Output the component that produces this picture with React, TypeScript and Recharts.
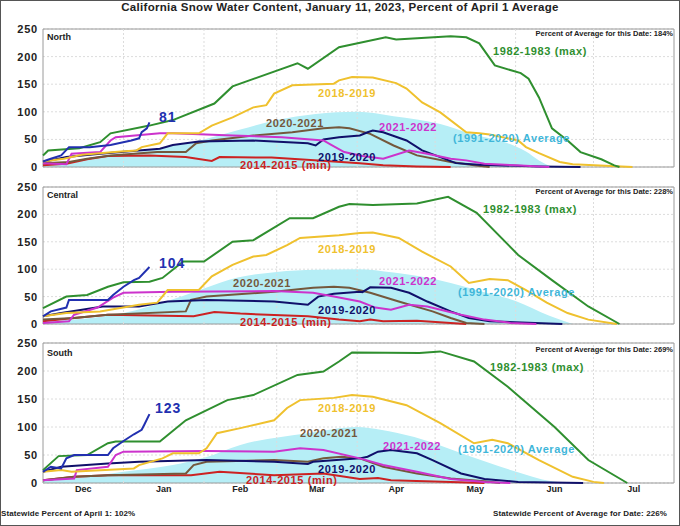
import React from "react";
import {
    ComposedChart,
    Line,
    Area,
    XAxis,
    YAxis,
    CartesianGrid,
    ReferenceLine,
    ReferenceArea,
} from "recharts";

// x = days since Dec 1, y = percent of April 1 average
const MONTHS = ["Dec", "Jan", "Feb", "Mar", "Apr", "May", "Jun", "Jul"];
const MONTH_MIDS = [15.5, 46.5, 76, 105.5, 136, 166.5, 197, 227.5];
const MONTH_STARTS = [31, 62, 90, 121, 151, 182, 212];
const Y_TICKS = [0, 50, 100, 150, 200, 250];

// North
const northAvg = [[0, 5], [15, 12], [31, 22], [46, 35], [62, 50], [76, 68], [90, 85], [105, 96], [121, 100], [135, 92], [153, 78], [165, 60], [179, 43], [186, 28], [191, 12], [196, 0]];
const northMax = [[0, 21], [2, 30], [14, 34], [22, 45], [26, 61], [41, 75], [50, 85], [66, 115], [73, 146], [98, 188], [102, 178], [114, 217], [132, 235], [136, 231], [157, 237], [163, 235], [168, 224], [174, 184], [184, 170], [187, 160], [191, 126], [196, 70], [202, 48], [207, 27], [215, 14], [220, 3], [222, 0]];
const north2018 = [[0, 10], [8, 15], [15, 22], [30, 28], [36, 30], [38, 36], [45, 43], [48, 61], [60, 61], [65, 75], [73, 90], [81, 108], [86, 112], [89, 133], [96, 148], [112, 151], [114, 157], [119, 163], [127, 162], [136, 152], [140, 142], [146, 117], [153, 99], [163, 63], [168, 61], [172, 59], [183, 48], [186, 36], [191, 25], [199, 9], [204, 5], [227, 0]];
const north2020 = [[0, 7], [10, 9], [17, 15], [26, 21], [44, 27], [55, 27], [59, 43], [65, 48], [81, 57], [96, 63], [108, 70], [114, 72], [118, 70], [126, 60], [135, 39], [144, 21], [157, 9], [166, 3], [172, 0]];
const north2021 = [[0, 7], [9, 5], [11, 24], [22, 27], [26, 48], [28, 54], [45, 61], [50, 61], [73, 57], [92, 54], [108, 48], [111, 40], [116, 27], [123, 20], [131, 15], [141, 30], [148, 24], [157, 15], [163, 12], [170, 6], [182, 3], [195, 0]];
const north2019 = [[0, 9], [9, 18], [22, 24], [45, 33], [50, 40], [60, 46], [81, 48], [102, 43], [105, 39], [108, 50], [114, 54], [122, 57], [125, 63], [127, 66], [131, 63], [140, 48], [146, 30], [153, 18], [159, 7], [168, 4], [191, 1], [207, 0]];
const north2014 = [[0, 3], [9, 6], [17, 14], [25, 20], [41, 21], [55, 18], [65, 11], [68, 18], [88, 17], [112, 10], [122, 7], [131, 3], [144, 1], [157, 0]];
const northNow = [[0, 10], [3, 15], [7, 21], [10, 36], [18, 36], [26, 40], [34, 48], [37, 52], [38, 63], [40, 70], [41, 81]];

// Central
const centralAvg = [[0, 5], [31, 20], [50, 45], [62, 65], [75, 85], [90, 95], [105, 99], [121, 100], [135, 94], [145, 87], [157, 75], [170, 58], [182, 42], [195, 15], [204, 0]];
const centralMax = [[0, 29], [9, 50], [17, 53], [25, 68], [31, 76], [41, 77], [46, 84], [54, 114], [62, 114], [73, 150], [81, 153], [95, 193], [104, 193], [114, 214], [118, 219], [127, 217], [144, 220], [156, 232], [167, 203], [183, 126], [196, 80], [210, 32], [222, 0]];
const central2018 = [[0, 14], [9, 20], [22, 23], [37, 35], [44, 39], [48, 62], [60, 62], [65, 87], [73, 108], [81, 123], [86, 126], [94, 144], [99, 157], [114, 162], [122, 166], [127, 167], [137, 157], [146, 132], [157, 105], [164, 75], [172, 82], [179, 80], [186, 62], [194, 39], [202, 20], [210, 8], [221, 0]];
const central2020 = [[0, 8], [12, 11], [25, 17], [55, 23], [57, 44], [63, 50], [89, 59], [104, 66], [112, 68], [118, 66], [126, 57], [137, 41], [150, 23], [157, 11], [163, 2], [170, 0]];
const central2021 = [[0, 2], [10, 5], [12, 17], [21, 30], [27, 48], [31, 57], [50, 59], [89, 60], [104, 57], [112, 50], [122, 41], [128, 30], [134, 26], [141, 35], [148, 32], [161, 17], [170, 8], [180, 2], [190, 0]];
const central2019 = [[0, 14], [7, 20], [23, 32], [37, 32], [48, 41], [63, 44], [89, 41], [102, 35], [106, 50], [112, 55], [122, 59], [123, 58], [126, 67], [134, 66], [141, 57], [148, 41], [157, 23], [164, 11], [172, 5], [200, 0]];
const central2014 = [[0, 5], [12, 11], [25, 17], [58, 14], [66, 22], [76, 19], [102, 14], [114, 8], [122, 5], [126, 8], [131, 5], [144, 6], [157, 2], [163, 0]];
const centralNow = [[0, 14], [3, 23], [9, 30], [10, 44], [25, 44], [27, 53], [31, 68], [35, 80], [37, 84], [41, 104]];

// South
const southAvg = [[0, 5], [15, 10], [31, 20], [50, 32], [62, 45], [76, 68], [102, 89], [121, 100], [130, 95], [143, 82], [163, 50], [181, 22], [196, 3], [205, 0]];
const southMax = [[0, 23], [6, 48], [17, 50], [25, 71], [28, 74], [45, 74], [55, 112], [71, 148], [81, 157], [98, 193], [108, 199], [114, 217], [119, 233], [145, 232], [153, 235], [166, 217], [179, 172], [197, 100], [210, 41], [225, 0]];
const south2018 = [[0, 20], [7, 23], [11, 20], [35, 26], [37, 32], [46, 44], [50, 53], [60, 53], [63, 62], [67, 89], [76, 98], [89, 112], [94, 134], [99, 148], [112, 152], [119, 157], [127, 154], [140, 139], [153, 107], [166, 71], [173, 77], [179, 71], [191, 41], [204, 11], [212, 2], [216, 0]];
const south2020 = [[0, 5], [12, 11], [25, 14], [55, 17], [58, 32], [63, 38], [89, 41], [102, 38], [108, 44], [115, 47], [122, 44], [131, 29], [144, 17], [157, 8], [170, 3], [176, 0]];
const south2021 = [[0, 5], [12, 8], [13, 23], [25, 29], [28, 50], [31, 56], [63, 57], [89, 56], [99, 62], [108, 59], [122, 44], [131, 32], [144, 20], [157, 7], [170, 2], [180, 0]];
const south2019 = [[0, 20], [7, 29], [25, 35], [37, 38], [63, 41], [89, 38], [102, 34], [104, 38], [122, 44], [125, 47], [129, 56], [134, 59], [144, 53], [150, 41], [161, 17], [170, 7], [183, 2], [208, 0]];
const south2014 = [[0, 5], [12, 11], [25, 14], [57, 14], [68, 20], [89, 14], [108, 17], [122, 7], [129, 9], [134, 5], [157, 2], [170, 0]];
const southNow = [[0, 20], [3, 29], [7, 26], [9, 44], [12, 50], [25, 50], [27, 62], [31, 75], [35, 87], [38, 95], [39, 104], [41, 123]];

const FONT = "'Liberation Sans', Arial, sans-serif";
const C_MAX = "#2f8f2f";
const C_2018 = "#efc12e";
const C_2020 = "#74583c";
const C_2021 = "#cc33cc";
const C_2019 = "#10106a";
const C_2014 = "#cc2222";
const C_AVG = "#b6eef6";
const C_AVG_TXT = "#3fb6d9";
const C_NOW = "#2230b0";
const GRID = "#dcdcdc";

const toPts = (a: number[][]) => a.map(([d, v]) => ({ d, v }));

type PanelProps = {
    top: number;
    height: number;
    mTop: number;
    mBottom: number;
    showX: boolean;
    avg: number[][];
    years: number[][][]; // 2014, 2020, 2019, 2021, 2018, max
    now: number[][];
};

const YEAR_COLORS = [C_2014, C_2020, C_2019, C_2021, C_2018, C_MAX];

const Panel = ({ top, height, mTop, mBottom, showX, avg, years, now }: PanelProps) => (
    <div style={{ position: "absolute", left: 0, top }}>
        <ComposedChart width={680} height={height} margin={{ top: mTop, right: 6, bottom: mBottom, left: 0 }}>
            <CartesianGrid vertical={false} stroke={GRID} strokeDasharray="2 2" />
            <XAxis
                type="number"
                dataKey="d"
                domain={[0, 243]}
                ticks={MONTH_MIDS}
                tickFormatter={(v: number) => MONTHS[MONTH_MIDS.indexOf(v)]}
                hide={!showX}
                height={20}
                axisLine={false}
                tickLine={false}
                tickSize={0}
                tickMargin={3}
                interval={0}
                tick={{ fontSize: 9, fontWeight: "bold", fill: "#222", fontFamily: FONT }}
            />
            <YAxis
                type="number"
                domain={[0, 250]}
                ticks={Y_TICKS}
                width={43}
                axisLine={false}
                tickLine={false}
                tickSize={3}
                tickMargin={2}
                interval={0}
                tick={{ fontSize: 11, fontWeight: "bold", fill: "#222", fontFamily: FONT, letterSpacing: 0.8 }}
            />
            <Area
                data={toPts(avg)}
                dataKey="v"
                type="monotone"
                fill={C_AVG}
                fillOpacity={1}
                stroke="none"
                isAnimationActive={false}
            />
            {MONTH_STARTS.map((m) => (
                <ReferenceLine key={m} x={m} stroke={GRID} strokeDasharray="2 2" />
            ))}
            {years.map((y, i) => (
                <Line
                    key={i}
                    data={toPts(y)}
                    dataKey="v"
                    type="linear"
                    stroke={YEAR_COLORS[i]}
                    strokeWidth={2}
                    dot={false}
                    isAnimationActive={false}
                />
            ))}
            <Line
                data={toPts(now)}
                dataKey="v"
                type="linear"
                stroke={C_NOW}
                strokeWidth={2}
                dot={false}
                isAnimationActive={false}
            />
            <ReferenceArea x1={0} x2={243} y1={0} y2={250} fill="none" stroke="#9a9a9a" />
        </ComposedChart>
    </div>
);

const T = ({ x, y, color = "#222", size = 11, ls = 0.6, right, children }: any) => (
    <div
        style={{
            position: "absolute",
            left: right ? undefined : x,
            right: right ? 680 - x : undefined,
            top: y,
            transform: "translateY(-50%)",
            fontSize: size,
            lineHeight: 1,
            fontWeight: "bold",
            color,
            letterSpacing: ls,
            whiteSpace: "nowrap",
        }}
    >
        {children}
    </div>
);

const SeriesLabels = ({ dy, l2018, l2020, l2021, lAvg, lMax, lNow, now, dateText }: any) => (
    <>
        <T x={47} y={dy + 37} size={9} ls={0}>{lNow.name}</T>
        <T x={673} y={dy + 34} size={7.5} ls={0} right>{dateText}</T>
        <T x={lMax[0]} y={lMax[1]} color={C_MAX}>1982-1983 (max)</T>
        <T x={318} y={l2018} color={C_2018}>2018-2019</T>
        <T x={l2020[0]} y={l2020[1]} color={C_2020}>2020-2021</T>
        <T x={l2021[0]} y={l2021[1]} color={C_2021}>2021-2022</T>
        <T x={lAvg[0]} y={lAvg[1]} color={C_AVG_TXT}>(1991-2020) Average</T>
        <T x={318} y={lNow.y2019} color={C_2019}>2019-2020</T>
        <T x={lNow.x2014} y={lNow.y2014} color={C_2014}>2014-2015 (min)</T>
        <T x={lNow.xNow} y={lNow.yNow} color={C_NOW} size={14} ls={1}>{now}</T>
    </>
);

const App: React.FC = () => {
    return (
        <div
            style={{
                position: "absolute",
                left: 0,
                top: 0,
                width: 680,
                height: 526,
                background: "#fff",
                overflow: "hidden",
                fontFamily: FONT,
            }}
        >
            <T x={340} y={8} size={11.5} ls={0.3}>
                <span style={{ position: "relative", left: "-50%" }}>
                    California Snow Water Content, January 11, 2023, Percent of April 1 Average
                </span>
            </T>

            <Panel top={0} height={180} mTop={29} mBottom={13} showX={false} avg={northAvg}
                years={[north2014, north2020, north2019, north2021, north2018, northMax]} now={northNow} />
            <Panel top={178} height={162} mTop={9} mBottom={16} showX={false} avg={centralAvg}
                years={[central2014, central2020, central2019, central2021, central2018, centralMax]} now={centralNow} />
            <Panel top={335} height={191} mTop={8} mBottom={23} showX={true} avg={southAvg}
                years={[south2014, south2020, south2019, south2021, south2018, southMax]} now={southNow} />

            <SeriesLabels dy={0} dateText="Percent of Average for this Date: 184%" now="81"
                lMax={[493, 51]} l2018={93} l2020={[266, 123]} l2021={[379, 127]} lAvg={[453, 138]}
                lNow={{ name: "North", y2019: 157, x2014: 240, y2014: 165, xNow: 159, yNow: 117 }} />
            <SeriesLabels dy={158} dateText="Percent of Average for this Date: 228%" now="104"
                lMax={[483, 209]} l2018={249} l2020={[233, 283]} l2021={[379, 281]} lAvg={[458, 292]}
                lNow={{ name: "Central", y2019: 310, x2014: 240, y2014: 322, xNow: 159, yNow: 263 }} />
            <SeriesLabels dy={316} dateText="Percent of Average for this Date: 269%" now="123"
                lMax={[490, 367]} l2018={408} l2020={[300, 433]} l2021={[383, 446]} lAvg={[458, 449]}
                lNow={{ name: "South", y2019: 469, x2014: 246, y2014: 480, xNow: 155, yNow: 408 }} />

            <T x={1} y={514} size={8} ls={0.1}>Statewide Percent of April 1: 102%</T>
            <T x={493} y={514} size={8} ls={0.1}>Statewide Percent of Average for Date: 226%</T>

            <div style={{ position: "absolute", left: 0, top: 0, width: 680, height: 526, boxSizing: "border-box", border: "1px solid #555", pointerEvents: "none" }} />
        </div>
    );
};

export default App;
